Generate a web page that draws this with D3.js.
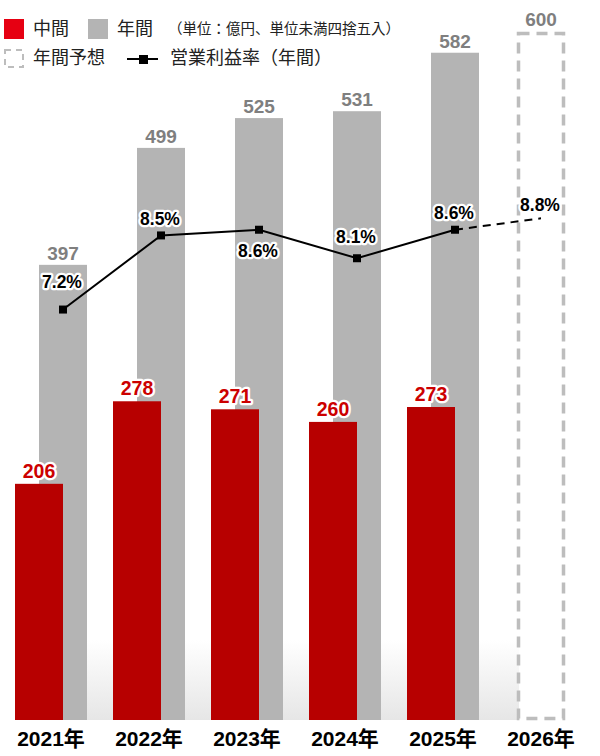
<!DOCTYPE html>
<html>
<head>
<meta charset="utf-8">
<script src="https://cdn.jsdelivr.net/npm/d3@7"></script>
<style>
  body { margin: 0; background: #fff; }
  text { font-family: "Liberation Sans", "Noto Sans CJK JP", sans-serif; }
  .jp { font-family: "Noto Sans CJK JP", sans-serif; }
  .halo { paint-order: stroke; stroke: #fff; stroke-width: 4.5px; stroke-linejoin: round; }
</style>
</head>
<body>
<div class="chart"></div>
<script>
// data
const years = ["2021年", "2022年", "2023年", "2024年", "2025年", "2026年"];
const interimSales = [206, 278, 271, 260, 273, null];
const annualSales = [397, 499, 525, 531, 582, null];
const forecastSales = [null, null, null, null, null, 600];
const opMargin = [7.2, 8.5, 8.6, 8.1, 8.6, 8.8];
const opMarginLabels = ["7.2%", "8.5%", "8.6%", "8.1%", "8.6%", "8.8%"];

let outWidth = 600, outHeight = 756;
let baseY = 720;

const svg = d3.select(".chart").append("svg")
    .attr("width", outWidth)
    .attr("height", outHeight);

const defs = svg.append("defs");
const grad = defs.append("linearGradient")
    .attr("id", "floor")
    .attr("x1", 0).attr("y1", 0).attr("x2", 0).attr("y2", 1);
grad.append("stop").attr("offset", "0%").attr("stop-color", "#fff");
grad.append("stop").attr("offset", "100%").attr("stop-color", "#e6e6e6");

let xScale = d3.scaleBand()
    .domain(years)
    .range([15, 577])
    .paddingInner(26 / 98);
let yScale = d3.scaleLinear().domain([0, 628]).range([baseY, 0]);
let pctScale = d3.scaleLinear().domain([0, 12.63]).range([baseY, 0]);

const barW = 48, shift = 24;
const groupMid = d => xScale(d) + xScale.bandwidth() / 2;

const rows = years.map((y, i) => ({
    year: y, interim: interimSales[i], annual: annualSales[i],
    forecast: forecastSales[i], pct: opMargin[i], pctLabel: opMarginLabels[i]
}));

// light floor shading behind the bars
const lastYear = years[years.length - 1];
svg.append("rect")
    .attr("x", xScale(years[0]))
    .attr("y", 640)
    .attr("width", groupMid(lastYear) - 22 - xScale(years[0]))
    .attr("height", baseY - 640)
    .attr("fill", "url(#floor)");

const g = svg.append("g");

// annual bars (grey, behind)
g.selectAll("rect.annual")
    .data(rows.filter(d => d.annual != null))
    .enter().append("rect")
    .attr("class", "annual")
    .attr("x", d => xScale(d.year) + shift)
    .attr("y", d => yScale(d.annual))
    .attr("width", barW)
    .attr("height", d => baseY - yScale(d.annual))
    .attr("fill", "#b4b4b4");

// forecast box
g.selectAll("rect.forecast")
    .data(rows.filter(d => d.forecast != null))
    .enter().append("rect")
    .attr("class", "forecast")
    .attr("x", d => groupMid(d.year) - 22.5)
    .attr("y", d => yScale(d.forecast) + 1.5)
    .attr("width", 45)
    .attr("height", d => baseY - yScale(d.forecast) - 3)
    .attr("fill", "none")
    .attr("stroke", "#bdbdbd")
    .attr("stroke-width", 3.5)
    .attr("stroke-dasharray", "11,7");

// interim bars (red, front)
g.selectAll("rect.interim")
    .data(rows.filter(d => d.interim != null))
    .enter().append("rect")
    .attr("class", "interim")
    .attr("x", d => xScale(d.year))
    .attr("y", d => yScale(d.interim))
    .attr("width", barW)
    .attr("height", d => baseY - yScale(d.interim))
    .attr("fill", "#b70000");

// annual / forecast value labels
g.selectAll("text.annual")
    .data(rows)
    .enter().append("text")
    .attr("class", "annual")
    .attr("x", d => d.annual != null ? xScale(d.year) + shift + barW / 2 : groupMid(d.year))
    .attr("y", d => d.annual != null ? yScale(d.annual) - 5 : yScale(d.forecast) - 6)
    .attr("text-anchor", "middle")
    .attr("font-size", 19)
    .attr("font-weight", "bold")
    .attr("fill", "#7f7f7f")
    .text(d => d.annual != null ? d.annual : d.forecast);

// operating margin line
const px = d => d.annual != null ? xScale(d.year) + shift + barW / 2 : groupMid(d.year);
const line = d3.line().x(px).y(d => pctScale(d.pct));
const actual = rows.filter(d => d.annual != null);
const projected = rows.slice(actual.length - 1);

g.append("path")
    .datum(actual)
    .attr("d", line)
    .attr("fill", "none")
    .attr("stroke", "#000")
    .attr("stroke-width", 2);
g.append("path")
    .datum(projected)
    .attr("d", line)
    .attr("fill", "none")
    .attr("stroke", "#000")
    .attr("stroke-width", 2)
    .attr("stroke-dasharray", "8,6");

g.selectAll("rect.marker")
    .data(actual)
    .enter().append("rect")
    .attr("class", "marker")
    .attr("x", d => px(d) - 4)
    .attr("y", d => pctScale(d.pct) - 4)
    .attr("width", 8)
    .attr("height", 8)
    .attr("fill", "#000");

// label placement around the markers
const pctLabelDy = [-22, -10, 27, -15, -11, -7];
g.selectAll("text.pct")
    .data(rows)
    .enter().append("text")
    .attr("class", "pct halo")
    .attr("x", d => px(d) - 1)
    .attr("y", (d, i) => pctScale(d.pct) + pctLabelDy[i])
    .attr("text-anchor", "middle")
    .attr("font-size", 17.5)
    .attr("font-weight", "bold")
    .attr("fill", "#000")
    .text(d => d.pctLabel);

// interim value labels
g.selectAll("text.interim")
    .data(rows.filter(d => d.interim != null))
    .enter().append("text")
    .attr("class", "interim halo")
    .attr("x", d => xScale(d.year) + barW / 2)
    .attr("y", d => yScale(d.interim) - 6)
    .attr("text-anchor", "middle")
    .attr("font-size", 19.5)
    .attr("font-weight", "bold")
    .attr("fill", "#cc0000")
    .text(d => d.interim);

// year axis
const xAxis = d3.axisBottom(xScale).tickSize(0).tickPadding(0);
const axisG = svg.append("g")
    .attr("transform", `translate(0, ${baseY})`)
    .call(xAxis);
axisG.select(".domain").remove();
axisG.selectAll("text")
    .attr("y", 26)
    .attr("dy", 0)
    .attr("font-size", 21)
    .attr("font-weight", "bold")
    .attr("fill", "#000")
    .style("font-family", "'Liberation Sans', 'Noto Sans CJK JP', sans-serif");

// legend
const legend = svg.append("g").attr("class", "legend");
legend.append("rect").attr("x", 4).attr("y", 19).attr("width", 20).attr("height", 20).attr("fill", "#e60012");
legend.append("text").attr("class", "jp").attr("x", 33).attr("y", 29).attr("dy", "0.36em")
    .attr("font-size", 18).attr("fill", "#222").text("中間");
legend.append("rect").attr("x", 88).attr("y", 19).attr("width", 20).attr("height", 20).attr("fill", "#b4b4b4");
legend.append("text").attr("class", "jp").attr("x", 117).attr("y", 29).attr("dy", "0.36em")
    .attr("font-size", 18).attr("fill", "#222").text("年間");
legend.append("text").attr("class", "jp").attr("x", 168).attr("y", 29).attr("dy", "0.36em")
    .attr("font-size", 14.5).attr("fill", "#222").text("（単位：億円、単位未満四捨五入）");

legend.append("rect").attr("x", 5).attr("y", 50).attr("width", 18).attr("height", 17)
    .attr("fill", "none").attr("stroke", "#bdbdbd").attr("stroke-width", 2).attr("stroke-dasharray", "6,5");
legend.append("text").attr("class", "jp").attr("x", 33).attr("y", 58).attr("dy", "0.36em")
    .attr("font-size", 18).attr("fill", "#222").text("年間予想");
legend.append("line").attr("x1", 127).attr("x2", 158).attr("y1", 59).attr("y2", 59)
    .attr("stroke", "#000").attr("stroke-width", 2);
legend.append("rect").attr("x", 139).attr("y", 55).attr("width", 9).attr("height", 9).attr("fill", "#000");
legend.append("text").attr("class", "jp").attr("x", 170).attr("y", 58).attr("dy", "0.36em")
    .attr("font-size", 18).attr("fill", "#222").text("営業利益率（年間）");
</script>
</body>
</html>
